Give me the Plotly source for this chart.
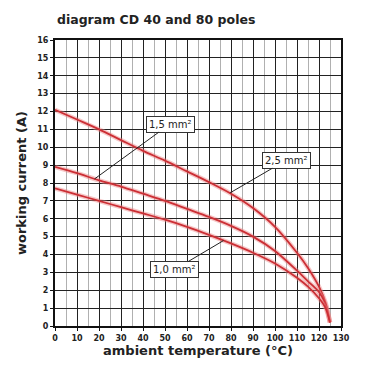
import plotly.graph_objects as go

temps = [0, 10, 20, 30, 40, 50, 60, 70, 80, 90, 100, 110, 115, 120, 123, 125]
cur_25 = [12.1, 11.55, 11.0, 10.4, 9.8, 9.25, 8.65, 8.05, 7.4, 6.6, 5.55, 4.1, 3.25, 2.2, 1.3, 0.2]
cur_15 = [8.9, 8.55, 8.15, 7.8, 7.4, 7.0, 6.55, 6.1, 5.6, 5.0, 4.2, 3.1, 2.5, 1.9, 1.2, 0.2]
cur_10 = [7.7, 7.35, 7.0, 6.65, 6.3, 5.95, 5.55, 5.1, 4.62, 4.1, 3.5, 2.7, 2.2, 1.55, 1.0, 0.2]

labels = ["2,5 mm²", "1,5 mm²", "1,0 mm²"]
# (arrow tip x, tip y, label x, label y)
label_pos = [(79.6, 7.45, 105, 9.27), (18, 8.23, 52.3, 11.3), (76.6, 4.78, 54.3, 3.15)]

x_ticks = list(range(0, 131, 10))
y_ticks = list(range(0, 17, 1))

fig = go.Figure()
for ys in (cur_25, cur_15, cur_10):
    fig.add_trace(go.Scatter(x=temps, y=ys, mode="lines", line=dict(color="rgba(235,130,130,0.45)", width=4.5, shape="spline", smoothing=0.8), hoverinfo="skip", showlegend=False))
    fig.add_trace(go.Scatter(x=temps, y=ys, mode="lines", line=dict(color="#cc2f35", width=1.8, shape="spline", smoothing=0.8), showlegend=False))

for txt, (tx, ty, lx, ly) in zip(labels, label_pos):
    fig.add_annotation(x=tx, y=ty, ax=lx, ay=ly, axref="x", ayref="y", text=txt,
                       showarrow=True, arrowhead=0, arrowwidth=1, arrowcolor="#222",
                       bgcolor="white", bordercolor="#333", borderwidth=1, borderpad=2,
                       font=dict(family="DejaVu Sans", size=10, color="#222"))

fig.update_layout(
    width=372, height=372,
    margin=dict(l=44, r=39, t=32, b=54),
    paper_bgcolor="white", plot_bgcolor="white",
    title=dict(text="diagram CD 40 and 80 poles", x=49/372, xanchor="left", y=1-12/372, yanchor="middle",
               font=dict(family="DejaVu Sans", size=12.5, color="#222", weight="bold")),
    font=dict(family="DejaVu Sans", color="#222"),
)
fig.update_xaxes(range=[0, 130], tickvals=x_ticks, ticktext=[str(v) for v in x_ticks],
                 showgrid=True, gridcolor="#222", gridwidth=1,
                 minor=dict(dtick=5, showgrid=True, gridcolor="#b0b0b0", gridwidth=1),
                 showline=True, linecolor="#111", linewidth=2, mirror=True,
                 ticks="outside", ticklen=3, tickcolor="#111",
                 tickfont=dict(size=8, weight="bold"), zeroline=False,
                 title=dict(text="ambient temperature (°C)", font=dict(size=13, weight="bold"), standoff=4))
fig.update_yaxes(range=[0, 16], tickvals=y_ticks, ticktext=[str(v) for v in y_ticks],
                 showgrid=True, gridcolor="#222", gridwidth=1,
                 showline=True, linecolor="#111", linewidth=2, mirror=True,
                 ticks="outside", ticklen=3, tickcolor="#111",
                 tickfont=dict(size=8, weight="bold"), zeroline=False,
                 title=dict(text="working current (A)", font=dict(size=13, weight="bold"), standoff=8))

fig.write_html("out.html")
